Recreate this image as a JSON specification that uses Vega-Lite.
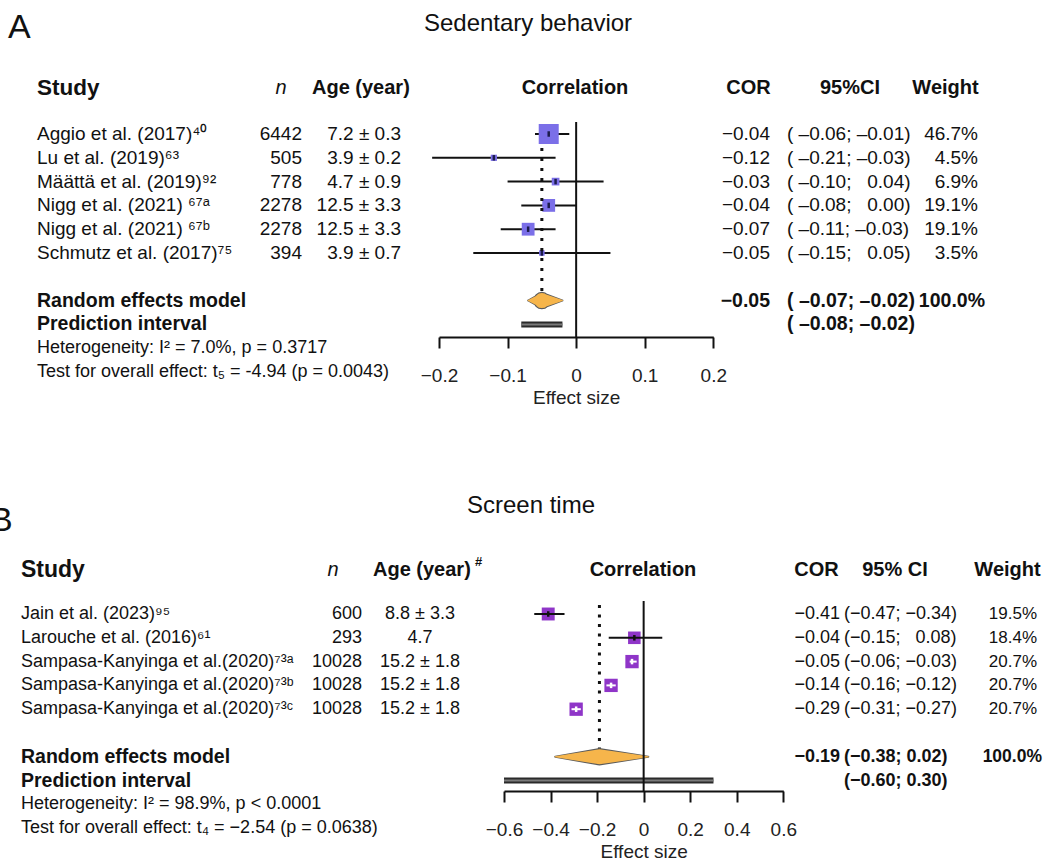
{
"$schema": "https://vega.github.io/schema/vega-lite/v6.json",
"padding": 0,
"spacing": 50,
"config": {
  "font": "Liberation Sans",
  "view": {"stroke": null},
  "text": {"font": "Liberation Sans", "color": "#111", "baseline": "middle"},
  "axis": {"domainColor": "#111", "domainWidth": 2, "tickColor": "#111", "tickWidth": 2, "tickSize": 11, "labelFont": "Liberation Sans", "labelFontSize": 19, "labelColor": "#222", "labelPadding": 18, "labelFlush": false, "labelOverlap": false, "titleFont": "Liberation Sans", "titleFontSize": 19, "titleFontWeight": "normal", "titleColor": "#222", "titlePadding": 3, "grid": false}
},
"datasets": {
  "aStudies": [
    {"row": 1, "study": "Aggio et al. (2017)⁴⁰", "n": 6442, "age": "7.2 ± 0.3", "cor": -0.04, "lo": -0.06, "hi": -0.01, "w": 0.467, "ci": "( –0.06; –0.01)"},
    {"row": 2, "study": "Lu et al. (2019)⁶³", "n": 505, "age": "3.9 ± 0.2", "cor": -0.12, "lo": -0.21, "hi": -0.03, "w": 0.045, "ci": "( –0.21; –0.03)"},
    {"row": 3, "study": "Määttä et al. (2019)⁹²", "n": 778, "age": "4.7 ± 0.9", "cor": -0.03, "lo": -0.10, "hi": 0.04, "w": 0.069, "ci": "( –0.10; \u20070.04)"},
    {"row": 4, "study": "Nigg et al. (2021) ⁶⁷ᵃ", "n": 2278, "age": "12.5 ± 3.3", "cor": -0.04, "lo": -0.08, "hi": 0.00, "w": 0.191, "ci": "( –0.08; \u20070.00)"},
    {"row": 5, "study": "Nigg et al. (2021) ⁶⁷ᵇ", "n": 2278, "age": "12.5 ± 3.3", "cor": -0.07, "lo": -0.11, "hi": -0.03, "w": 0.191, "ci": "( –0.11; –0.03)"},
    {"row": 6, "study": "Schmutz et al. (2017)⁷⁵", "n": 394, "age": "3.9 ± 0.7", "cor": -0.05, "lo": -0.15, "hi": 0.05, "w": 0.035, "ci": "( –0.15; \u20070.05)"}
  ],
  "aSum": [
    {"row": 8, "type": "re", "label": "Random effects model", "cor": -0.05, "lo": -0.07, "hi": -0.02, "w": 1, "ci": "( –0.07; –0.02)"},
    {"row": 9, "type": "pi", "label": "Prediction interval", "lo": -0.08, "hi": -0.02, "ci": "( –0.08; –0.02)"}
  ],
  "aNotes": [
    {"row": 10, "t": "Heterogeneity: I² = 7.0%, p = 0.3717"},
    {"row": 11, "t": "Test for overall effect: t₅ = -4.94 (p = 0.0043)"}
  ],
  "bStudies": [
    {"row": 1, "study": "Jain et al. (2023)⁹⁵", "n": 600, "age": "8.8 ± 3.3", "cor": -0.41, "lo": -0.47, "hi": -0.34, "w": 0.195, "ci": "(−0.47; −0.34)"},
    {"row": 2, "study": "Larouche et al. (2016)⁶¹", "n": 293, "age": "4.7", "cor": -0.04, "lo": -0.15, "hi": 0.08, "w": 0.184, "ci": "(−0.15; \u20070.08)"},
    {"row": 3, "study": "Sampasa-Kanyinga et al.(2020)⁷³ᵃ", "n": 10028, "age": "15.2 ± 1.8", "cor": -0.05, "lo": -0.06, "hi": -0.03, "w": 0.207, "ci": "(−0.06; −0.03)"},
    {"row": 4, "study": "Sampasa-Kanyinga et al.(2020)⁷³ᵇ", "n": 10028, "age": "15.2 ± 1.8", "cor": -0.14, "lo": -0.16, "hi": -0.12, "w": 0.207, "ci": "(−0.16; −0.12)"},
    {"row": 5, "study": "Sampasa-Kanyinga et al.(2020)⁷³ᶜ", "n": 10028, "age": "15.2 ± 1.8", "cor": -0.29, "lo": -0.31, "hi": -0.27, "w": 0.207, "ci": "(−0.31; −0.27)"}
  ],
  "bSum": [
    {"row": 7, "type": "re", "label": "Random effects model", "cor": -0.19, "lo": -0.38, "hi": 0.02, "w": 1, "ci": "(−0.38; 0.02)"},
    {"row": 8, "type": "pi", "label": "Prediction interval", "lo": -0.60, "hi": 0.30, "ci": "(−0.60; 0.30)"}
  ],
  "bNotes": [
    {"row": 9, "t": "Heterogeneity: I² = 98.9%, p < 0.0001"},
    {"row": 10, "t": "Test for overall effect: t₄ = −2.54 (p = 0.0638)"}
  ]
},
"vconcat": [
{
  "width": 1043, "height": 337,
  "resolve": {"scale": {"x": "independent"}, "axis": {"x": "independent"}},
  "layer": [
    {"data": {"values": [{}]}, "mark": {"type": "text", "align": "left", "fontSize": 34},
     "encoding": {"x": {"datum": 8, "type": "quantitative", "scale": {"domain": [0, 1043], "range": [0, 1043], "nice": false, "zero": false}, "axis": null},
                  "y": {"datum": -3.45, "type": "quantitative", "scale": {"domain": [-4.63, 9.529], "reverse": true, "nice": false, "zero": false}, "axis": null},
                  "text": {"value": "A"}}},
    {"data": {"values": [{}]}, "mark": {"type": "text", "align": "center", "fontSize": 24},
     "encoding": {"x": {"datum": 528, "type": "quantitative", "scale": {"domain": [0, 1043], "range": [0, 1043], "nice": false, "zero": false}, "axis": null},
                  "y": {"datum": -3.62, "type": "quantitative", "scale": {"domain": [-4.63, 9.529], "reverse": true, "nice": false, "zero": false}, "axis": null},
                  "text": {"value": "Sedentary behavior"}}},
    {"data": {"values": [{}]}, "mark": {"type": "text", "align": "left", "fontSize": 22.5, "fontWeight": "bold"},
     "encoding": {"x": {"datum": 37, "type": "quantitative", "scale": {"domain": [0, 1043], "range": [0, 1043], "nice": false, "zero": false}, "axis": null},
                  "y": {"datum": -0.933, "type": "quantitative", "scale": {"domain": [-4.63, 9.529], "reverse": true, "nice": false, "zero": false}, "axis": null},
                  "text": {"value": "Study"}}},
    {"data": {"values": [{}]}, "mark": {"type": "text", "align": "center", "fontSize": 20, "fontStyle": "italic"},
     "encoding": {"x": {"datum": 281, "type": "quantitative", "scale": {"domain": [0, 1043], "range": [0, 1043], "nice": false, "zero": false}, "axis": null},
                  "y": {"datum": -0.933, "type": "quantitative", "scale": {"domain": [-4.63, 9.529], "reverse": true, "nice": false, "zero": false}, "axis": null},
                  "text": {"value": "n"}}},
    {"data": {"values": [{}]}, "mark": {"type": "text", "align": "left", "fontSize": 20, "fontWeight": "bold"},
     "encoding": {"x": {"datum": 312, "type": "quantitative", "scale": {"domain": [0, 1043], "range": [0, 1043], "nice": false, "zero": false}, "axis": null},
                  "y": {"datum": -0.933, "type": "quantitative", "scale": {"domain": [-4.63, 9.529], "reverse": true, "nice": false, "zero": false}, "axis": null},
                  "text": {"value": "Age (year)"}}},
    {"data": {"values": [{}]}, "mark": {"type": "text", "align": "center", "fontSize": 20, "fontWeight": "bold"},
     "encoding": {"x": {"datum": 575, "type": "quantitative", "scale": {"domain": [0, 1043], "range": [0, 1043], "nice": false, "zero": false}, "axis": null},
                  "y": {"datum": -0.933, "type": "quantitative", "scale": {"domain": [-4.63, 9.529], "reverse": true, "nice": false, "zero": false}, "axis": null},
                  "text": {"value": "Correlation"}}},
    {"data": {"values": [{}]}, "mark": {"type": "text", "align": "center", "fontSize": 20, "fontWeight": "bold"},
     "encoding": {"x": {"datum": 748.5, "type": "quantitative", "scale": {"domain": [0, 1043], "range": [0, 1043], "nice": false, "zero": false}, "axis": null},
                  "y": {"datum": -0.933, "type": "quantitative", "scale": {"domain": [-4.63, 9.529], "reverse": true, "nice": false, "zero": false}, "axis": null},
                  "text": {"value": "COR"}}},
    {"data": {"values": [{}]}, "mark": {"type": "text", "align": "center", "fontSize": 20, "fontWeight": "bold"},
     "encoding": {"x": {"datum": 850, "type": "quantitative", "scale": {"domain": [0, 1043], "range": [0, 1043], "nice": false, "zero": false}, "axis": null},
                  "y": {"datum": -0.933, "type": "quantitative", "scale": {"domain": [-4.63, 9.529], "reverse": true, "nice": false, "zero": false}, "axis": null},
                  "text": {"value": "95%CI"}}},
    {"data": {"values": [{}]}, "mark": {"type": "text", "align": "center", "fontSize": 20, "fontWeight": "bold"},
     "encoding": {"x": {"datum": 945.5, "type": "quantitative", "scale": {"domain": [0, 1043], "range": [0, 1043], "nice": false, "zero": false}, "axis": null},
                  "y": {"datum": -0.933, "type": "quantitative", "scale": {"domain": [-4.63, 9.529], "reverse": true, "nice": false, "zero": false}, "axis": null},
                  "text": {"value": "Weight"}}},
    {"data": {"name": "aStudies"}, "mark": {"type": "text", "align": "left", "fontSize": 19},
     "encoding": {"x": {"datum": 37, "type": "quantitative", "scale": {"domain": [0, 1043], "range": [0, 1043], "nice": false, "zero": false}, "axis": null},
                  "y": {"field": "row", "type": "quantitative", "scale": {"domain": [-4.63, 9.529], "reverse": true, "nice": false, "zero": false}, "axis": null},
                  "text": {"field": "study"}}},
    {"data": {"name": "aStudies"}, "mark": {"type": "text", "align": "right", "fontSize": 19},
     "encoding": {"x": {"datum": 302, "type": "quantitative", "scale": {"domain": [0, 1043], "range": [0, 1043], "nice": false, "zero": false}, "axis": null},
                  "y": {"field": "row", "type": "quantitative", "scale": {"domain": [-4.63, 9.529], "reverse": true, "nice": false, "zero": false}, "axis": null},
                  "text": {"field": "n", "type": "quantitative", "format": "d"}}},
    {"data": {"name": "aStudies"}, "mark": {"type": "text", "align": "right", "fontSize": 19},
     "encoding": {"x": {"datum": 401, "type": "quantitative", "scale": {"domain": [0, 1043], "range": [0, 1043], "nice": false, "zero": false}, "axis": null},
                  "y": {"field": "row", "type": "quantitative", "scale": {"domain": [-4.63, 9.529], "reverse": true, "nice": false, "zero": false}, "axis": null},
                  "text": {"field": "age"}}},
    {"data": {"name": "aStudies"}, "mark": {"type": "text", "align": "right", "fontSize": 19},
     "encoding": {"x": {"datum": 770, "type": "quantitative", "scale": {"domain": [0, 1043], "range": [0, 1043], "nice": false, "zero": false}, "axis": null},
                  "y": {"field": "row", "type": "quantitative", "scale": {"domain": [-4.63, 9.529], "reverse": true, "nice": false, "zero": false}, "axis": null},
                  "text": {"field": "cor", "type": "quantitative", "format": ".2f"}}},
    {"data": {"name": "aStudies"}, "mark": {"type": "text", "align": "left", "fontSize": 19},
     "encoding": {"x": {"datum": 787, "type": "quantitative", "scale": {"domain": [0, 1043], "range": [0, 1043], "nice": false, "zero": false}, "axis": null},
                  "y": {"field": "row", "type": "quantitative", "scale": {"domain": [-4.63, 9.529], "reverse": true, "nice": false, "zero": false}, "axis": null},
                  "text": {"field": "ci"}}},
    {"data": {"name": "aStudies"}, "mark": {"type": "text", "align": "right", "fontSize": 19},
     "encoding": {"x": {"datum": 978, "type": "quantitative", "scale": {"domain": [0, 1043], "range": [0, 1043], "nice": false, "zero": false}, "axis": null},
                  "y": {"field": "row", "type": "quantitative", "scale": {"domain": [-4.63, 9.529], "reverse": true, "nice": false, "zero": false}, "axis": null},
                  "text": {"field": "w", "type": "quantitative", "format": ".1%"}}},
    {"data": {"name": "aSum"}, "mark": {"type": "text", "align": "left", "fontSize": 19.5, "fontWeight": "bold"},
     "encoding": {"x": {"datum": 37, "type": "quantitative", "scale": {"domain": [0, 1043], "range": [0, 1043], "nice": false, "zero": false}, "axis": null},
                  "y": {"field": "row", "type": "quantitative", "scale": {"domain": [-4.63, 9.529], "reverse": true, "nice": false, "zero": false}, "axis": null},
                  "text": {"field": "label"}}},
    {"data": {"name": "aSum"}, "transform": [{"filter": "datum.type == 're'"}], "mark": {"type": "text", "align": "right", "fontSize": 19.5, "fontWeight": "bold"},
     "encoding": {"x": {"datum": 770, "type": "quantitative", "scale": {"domain": [0, 1043], "range": [0, 1043], "nice": false, "zero": false}, "axis": null},
                  "y": {"field": "row", "type": "quantitative", "scale": {"domain": [-4.63, 9.529], "reverse": true, "nice": false, "zero": false}, "axis": null},
                  "text": {"field": "cor", "type": "quantitative", "format": ".2f"}}},
    {"data": {"name": "aSum"}, "mark": {"type": "text", "align": "left", "fontSize": 19.5, "fontWeight": "bold"},
     "encoding": {"x": {"datum": 787, "type": "quantitative", "scale": {"domain": [0, 1043], "range": [0, 1043], "nice": false, "zero": false}, "axis": null},
                  "y": {"field": "row", "type": "quantitative", "scale": {"domain": [-4.63, 9.529], "reverse": true, "nice": false, "zero": false}, "axis": null},
                  "text": {"field": "ci"}}},
    {"data": {"name": "aSum"}, "transform": [{"filter": "datum.type == 're'"}], "mark": {"type": "text", "align": "right", "fontSize": 19.5, "fontWeight": "bold"},
     "encoding": {"x": {"datum": 985, "type": "quantitative", "scale": {"domain": [0, 1043], "range": [0, 1043], "nice": false, "zero": false}, "axis": null},
                  "y": {"field": "row", "type": "quantitative", "scale": {"domain": [-4.63, 9.529], "reverse": true, "nice": false, "zero": false}, "axis": null},
                  "text": {"field": "w", "type": "quantitative", "format": ".1%"}}},
    {"data": {"name": "aNotes"}, "mark": {"type": "text", "align": "left", "fontSize": 18},
     "encoding": {"x": {"datum": 37, "type": "quantitative", "scale": {"domain": [0, 1043], "range": [0, 1043], "nice": false, "zero": false}, "axis": null},
                  "y": {"field": "row", "type": "quantitative", "scale": {"domain": [-4.63, 9.529], "reverse": true, "nice": false, "zero": false}, "axis": null},
                  "text": {"field": "t"}}},
    {"data": {"name": "aStudies"}, "mark": {"type": "rule", "color": "#111", "strokeWidth": 2},
     "encoding": {"x": {"field": "lo", "type": "quantitative", "scale": {"domain": [-0.2, 0.2], "range": [439, 713.3], "nice": false, "zero": false},
                        "axis": {"orient": "bottom", "values": [-0.2, -0.1, 0, 0.1, 0.2], "format": "~g", "title": "Effect size"}},
                  "x2": {"field": "hi"},
                  "y": {"field": "row", "type": "quantitative", "scale": {"domain": [-4.63, 9.529], "reverse": true, "nice": false, "zero": false}, "axis": null}}},
    {"data": {"name": "aStudies"}, "mark": {"type": "point", "shape": "square", "filled": true, "opacity": 1, "color": "#7b6fe8", "strokeWidth": 0},
     "encoding": {"x": {"field": "cor", "type": "quantitative", "scale": {"domain": [-0.2, 0.2], "range": [439, 713.3], "nice": false, "zero": false}, "axis": null},
                  "y": {"field": "row", "type": "quantitative", "scale": {"domain": [-4.63, 9.529], "reverse": true, "nice": false, "zero": false}, "axis": null},
                  "size": {"field": "w", "type": "quantitative", "scale": {"domain": [0, 1], "range": [0, 857], "zero": true}, "legend": null}}},
    {"data": {"name": "aStudies"}, "mark": {"type": "point", "shape": "M0,-1L0,1", "filled": false, "opacity": 1, "color": "#1c1c4c", "strokeWidth": 2.5, "size": 30},
     "encoding": {"x": {"field": "cor", "type": "quantitative", "scale": {"domain": [-0.2, 0.2], "range": [439, 713.3], "nice": false, "zero": false}, "axis": null},
                  "y": {"field": "row", "type": "quantitative", "scale": {"domain": [-4.63, 9.529], "reverse": true, "nice": false, "zero": false}, "axis": null}}},
    {"data": {"name": "aSum"}, "transform": [{"filter": "datum.type == 're'"}], "mark": {"type": "rule", "color": "#111", "strokeWidth": 3, "strokeDash": [3, 7]},
     "encoding": {"x": {"field": "cor", "type": "quantitative", "scale": {"domain": [-0.2, 0.2], "range": [439, 713.3], "nice": false, "zero": false}, "axis": null},
                  "y": {"datum": 1.59, "type": "quantitative", "scale": {"domain": [-4.63, 9.529], "reverse": true, "nice": false, "zero": false}, "axis": null},
                  "y2": {"datum": 7.72}}},
    {"data": {"name": "aSum"}, "transform": [{"filter": "datum.type == 're'"}, {"fold": ["lo", "cor", "hi"], "as": ["k", "v"]}],
     "mark": {"type": "trail", "color": "#5a5a5a", "opacity": 1},
     "encoding": {"x": {"field": "v", "type": "quantitative", "scale": {"domain": [-0.2, 0.2], "range": [439, 713.3], "nice": false, "zero": false}, "axis": null},
                  "y": {"field": "row", "type": "quantitative", "scale": {"domain": [-4.63, 9.529], "reverse": true, "nice": false, "zero": false}, "axis": null},
                  "size": {"condition": {"test": "datum.k == 'cor'", "value": 17.5}, "value": 2}}},
    {"data": {"name": "aSum"}, "transform": [{"filter": "datum.type == 're'"}, {"fold": ["lo", "cor", "hi"], "as": ["k", "v"]}],
     "mark": {"type": "trail", "color": "#f6b54b", "opacity": 1},
     "encoding": {"x": {"field": "v", "type": "quantitative", "scale": {"domain": [-0.2, 0.2], "range": [439, 713.3], "nice": false, "zero": false}, "axis": null},
                  "y": {"field": "row", "type": "quantitative", "scale": {"domain": [-4.63, 9.529], "reverse": true, "nice": false, "zero": false}, "axis": null},
                  "size": {"condition": {"test": "datum.k == 'cor'", "value": 15}, "value": 0}}},
    {"data": {"name": "aSum"}, "transform": [{"filter": "datum.type == 'pi'"}], "mark": {"type": "rule", "color": "#2a2a2a", "strokeWidth": 6},
     "encoding": {"x": {"field": "lo", "type": "quantitative", "scale": {"domain": [-0.2, 0.2], "range": [439, 713.3], "nice": false, "zero": false}, "axis": null},
                  "x2": {"field": "hi"},
                  "y": {"field": "row", "type": "quantitative", "scale": {"domain": [-4.63, 9.529], "reverse": true, "nice": false, "zero": false}, "axis": null}}},
    {"data": {"name": "aSum"}, "transform": [{"filter": "datum.type == 'pi'"}], "mark": {"type": "rule", "color": "#7a7a7a", "strokeWidth": 2},
     "encoding": {"x": {"field": "lo", "type": "quantitative", "scale": {"domain": [-0.2, 0.2], "range": [439, 713.3], "nice": false, "zero": false}, "axis": null},
                  "x2": {"field": "hi"},
                  "y": {"field": "row", "type": "quantitative", "scale": {"domain": [-4.63, 9.529], "reverse": true, "nice": false, "zero": false}, "axis": null}}},
    {"data": {"values": [{}]}, "mark": {"type": "rule", "color": "#111", "strokeWidth": 2},
     "encoding": {"x": {"datum": 0, "type": "quantitative", "scale": {"domain": [-0.2, 0.2], "range": [439, 713.3], "nice": false, "zero": false}, "axis": null},
                  "y": {"datum": 0.496, "type": "quantitative", "scale": {"domain": [-4.63, 9.529], "reverse": true, "nice": false, "zero": false}, "axis": null},
                  "y2": {"datum": 9.529}}}
  ]
},
{
  "width": 1043, "height": 334,
  "resolve": {"scale": {"x": "independent"}, "axis": {"x": "independent"}},
  "layer": [
    {"data": {"values": [{}]}, "mark": {"type": "text", "align": "left", "fontSize": 34, "clip": true},
     "encoding": {"x": {"datum": -10, "type": "quantitative", "scale": {"domain": [0, 1043], "range": [0, 1043], "nice": false, "zero": false}, "axis": null},
                  "y": {"datum": -2.887, "type": "quantitative", "scale": {"domain": [-5.5966, 8.437], "reverse": true, "nice": false, "zero": false}, "axis": null},
                  "text": {"value": "B"}}},
    {"data": {"values": [{}]}, "mark": {"type": "text", "align": "center", "fontSize": 24},
     "encoding": {"x": {"datum": 531, "type": "quantitative", "scale": {"domain": [0, 1043], "range": [0, 1043], "nice": false, "zero": false}, "axis": null},
                  "y": {"datum": -3.538, "type": "quantitative", "scale": {"domain": [-5.5966, 8.437], "reverse": true, "nice": false, "zero": false}, "axis": null},
                  "text": {"value": "Screen time"}}},
    {"data": {"values": [{}]}, "mark": {"type": "text", "align": "left", "fontSize": 23, "fontWeight": "bold"},
     "encoding": {"x": {"datum": 21, "type": "quantitative", "scale": {"domain": [0, 1043], "range": [0, 1043], "nice": false, "zero": false}, "axis": null},
                  "y": {"datum": -0.849, "type": "quantitative", "scale": {"domain": [-5.5966, 8.437], "reverse": true, "nice": false, "zero": false}, "axis": null},
                  "text": {"value": "Study"}}},
    {"data": {"values": [{}]}, "mark": {"type": "text", "align": "center", "fontSize": 20, "fontStyle": "italic"},
     "encoding": {"x": {"datum": 333, "type": "quantitative", "scale": {"domain": [0, 1043], "range": [0, 1043], "nice": false, "zero": false}, "axis": null},
                  "y": {"datum": -0.849, "type": "quantitative", "scale": {"domain": [-5.5966, 8.437], "reverse": true, "nice": false, "zero": false}, "axis": null},
                  "text": {"value": "n"}}},
    {"data": {"values": [{}]}, "mark": {"type": "text", "align": "left", "fontSize": 20, "fontWeight": "bold"},
     "encoding": {"x": {"datum": 373, "type": "quantitative", "scale": {"domain": [0, 1043], "range": [0, 1043], "nice": false, "zero": false}, "axis": null},
                  "y": {"datum": -0.849, "type": "quantitative", "scale": {"domain": [-5.5966, 8.437], "reverse": true, "nice": false, "zero": false}, "axis": null},
                  "text": {"value": "Age (year)"}}},
    {"data": {"values": [{}]}, "mark": {"type": "text", "align": "left", "fontSize": 13, "fontWeight": "bold"},
     "encoding": {"x": {"datum": 475, "type": "quantitative", "scale": {"domain": [0, 1043], "range": [0, 1043], "nice": false, "zero": false}, "axis": null},
                  "y": {"datum": -1.18, "type": "quantitative", "scale": {"domain": [-5.5966, 8.437], "reverse": true, "nice": false, "zero": false}, "axis": null},
                  "text": {"value": "#"}}},
    {"data": {"values": [{}]}, "mark": {"type": "text", "align": "center", "fontSize": 20, "fontWeight": "bold"},
     "encoding": {"x": {"datum": 643, "type": "quantitative", "scale": {"domain": [0, 1043], "range": [0, 1043], "nice": false, "zero": false}, "axis": null},
                  "y": {"datum": -0.849, "type": "quantitative", "scale": {"domain": [-5.5966, 8.437], "reverse": true, "nice": false, "zero": false}, "axis": null},
                  "text": {"value": "Correlation"}}},
    {"data": {"values": [{}]}, "mark": {"type": "text", "align": "center", "fontSize": 20, "fontWeight": "bold"},
     "encoding": {"x": {"datum": 816.5, "type": "quantitative", "scale": {"domain": [0, 1043], "range": [0, 1043], "nice": false, "zero": false}, "axis": null},
                  "y": {"datum": -0.849, "type": "quantitative", "scale": {"domain": [-5.5966, 8.437], "reverse": true, "nice": false, "zero": false}, "axis": null},
                  "text": {"value": "COR"}}},
    {"data": {"values": [{}]}, "mark": {"type": "text", "align": "center", "fontSize": 20, "fontWeight": "bold"},
     "encoding": {"x": {"datum": 895, "type": "quantitative", "scale": {"domain": [0, 1043], "range": [0, 1043], "nice": false, "zero": false}, "axis": null},
                  "y": {"datum": -0.849, "type": "quantitative", "scale": {"domain": [-5.5966, 8.437], "reverse": true, "nice": false, "zero": false}, "axis": null},
                  "text": {"value": "95% CI"}}},
    {"data": {"values": [{}]}, "mark": {"type": "text", "align": "center", "fontSize": 20, "fontWeight": "bold"},
     "encoding": {"x": {"datum": 1007.5, "type": "quantitative", "scale": {"domain": [0, 1043], "range": [0, 1043], "nice": false, "zero": false}, "axis": null},
                  "y": {"datum": -0.849, "type": "quantitative", "scale": {"domain": [-5.5966, 8.437], "reverse": true, "nice": false, "zero": false}, "axis": null},
                  "text": {"value": "Weight"}}},
    {"data": {"name": "bStudies"}, "mark": {"type": "text", "align": "left", "fontSize": 18},
     "encoding": {"x": {"datum": 21, "type": "quantitative", "scale": {"domain": [0, 1043], "range": [0, 1043], "nice": false, "zero": false}, "axis": null},
                  "y": {"field": "row", "type": "quantitative", "scale": {"domain": [-5.5966, 8.437], "reverse": true, "nice": false, "zero": false}, "axis": null},
                  "text": {"field": "study"}}},
    {"data": {"name": "bStudies"}, "mark": {"type": "text", "align": "right", "fontSize": 18},
     "encoding": {"x": {"datum": 362, "type": "quantitative", "scale": {"domain": [0, 1043], "range": [0, 1043], "nice": false, "zero": false}, "axis": null},
                  "y": {"field": "row", "type": "quantitative", "scale": {"domain": [-5.5966, 8.437], "reverse": true, "nice": false, "zero": false}, "axis": null},
                  "text": {"field": "n", "type": "quantitative", "format": "d"}}},
    {"data": {"name": "bStudies"}, "mark": {"type": "text", "align": "center", "fontSize": 18},
     "encoding": {"x": {"datum": 420, "type": "quantitative", "scale": {"domain": [0, 1043], "range": [0, 1043], "nice": false, "zero": false}, "axis": null},
                  "y": {"field": "row", "type": "quantitative", "scale": {"domain": [-5.5966, 8.437], "reverse": true, "nice": false, "zero": false}, "axis": null},
                  "text": {"field": "age"}}},
    {"data": {"name": "bStudies"}, "mark": {"type": "text", "align": "right", "fontSize": 18},
     "encoding": {"x": {"datum": 840, "type": "quantitative", "scale": {"domain": [0, 1043], "range": [0, 1043], "nice": false, "zero": false}, "axis": null},
                  "y": {"field": "row", "type": "quantitative", "scale": {"domain": [-5.5966, 8.437], "reverse": true, "nice": false, "zero": false}, "axis": null},
                  "text": {"field": "cor", "type": "quantitative", "format": ".2f"}}},
    {"data": {"name": "bStudies"}, "mark": {"type": "text", "align": "left", "fontSize": 18},
     "encoding": {"x": {"datum": 844, "type": "quantitative", "scale": {"domain": [0, 1043], "range": [0, 1043], "nice": false, "zero": false}, "axis": null},
                  "y": {"field": "row", "type": "quantitative", "scale": {"domain": [-5.5966, 8.437], "reverse": true, "nice": false, "zero": false}, "axis": null},
                  "text": {"field": "ci"}}},
    {"data": {"name": "bStudies"}, "mark": {"type": "text", "align": "right", "fontSize": 17},
     "encoding": {"x": {"datum": 1037, "type": "quantitative", "scale": {"domain": [0, 1043], "range": [0, 1043], "nice": false, "zero": false}, "axis": null},
                  "y": {"field": "row", "type": "quantitative", "scale": {"domain": [-5.5966, 8.437], "reverse": true, "nice": false, "zero": false}, "axis": null},
                  "text": {"field": "w", "type": "quantitative", "format": ".1%"}}},
    {"data": {"name": "bSum"}, "mark": {"type": "text", "align": "left", "fontSize": 19.5, "fontWeight": "bold"},
     "encoding": {"x": {"datum": 21, "type": "quantitative", "scale": {"domain": [0, 1043], "range": [0, 1043], "nice": false, "zero": false}, "axis": null},
                  "y": {"field": "row", "type": "quantitative", "scale": {"domain": [-5.5966, 8.437], "reverse": true, "nice": false, "zero": false}, "axis": null},
                  "text": {"field": "label"}}},
    {"data": {"name": "bSum"}, "transform": [{"filter": "datum.type == 're'"}], "mark": {"type": "text", "align": "right", "fontSize": 18, "fontWeight": "bold"},
     "encoding": {"x": {"datum": 840, "type": "quantitative", "scale": {"domain": [0, 1043], "range": [0, 1043], "nice": false, "zero": false}, "axis": null},
                  "y": {"field": "row", "type": "quantitative", "scale": {"domain": [-5.5966, 8.437], "reverse": true, "nice": false, "zero": false}, "axis": null},
                  "text": {"field": "cor", "type": "quantitative", "format": ".2f"}}},
    {"data": {"name": "bSum"}, "mark": {"type": "text", "align": "left", "fontSize": 18, "fontWeight": "bold"},
     "encoding": {"x": {"datum": 844, "type": "quantitative", "scale": {"domain": [0, 1043], "range": [0, 1043], "nice": false, "zero": false}, "axis": null},
                  "y": {"field": "row", "type": "quantitative", "scale": {"domain": [-5.5966, 8.437], "reverse": true, "nice": false, "zero": false}, "axis": null},
                  "text": {"field": "ci"}}},
    {"data": {"name": "bSum"}, "transform": [{"filter": "datum.type == 're'"}], "mark": {"type": "text", "align": "right", "fontSize": 17.5, "fontWeight": "bold"},
     "encoding": {"x": {"datum": 1042, "type": "quantitative", "scale": {"domain": [0, 1043], "range": [0, 1043], "nice": false, "zero": false}, "axis": null},
                  "y": {"field": "row", "type": "quantitative", "scale": {"domain": [-5.5966, 8.437], "reverse": true, "nice": false, "zero": false}, "axis": null},
                  "text": {"field": "w", "type": "quantitative", "format": ".1%"}}},
    {"data": {"name": "bNotes"}, "mark": {"type": "text", "align": "left", "fontSize": 18},
     "encoding": {"x": {"datum": 21, "type": "quantitative", "scale": {"domain": [0, 1043], "range": [0, 1043], "nice": false, "zero": false}, "axis": null},
                  "y": {"field": "row", "type": "quantitative", "scale": {"domain": [-5.5966, 8.437], "reverse": true, "nice": false, "zero": false}, "axis": null},
                  "text": {"field": "t"}}},
    {"data": {"name": "bStudies"}, "mark": {"type": "point", "shape": "square", "filled": true, "opacity": 1, "color": "#8f35c8", "strokeWidth": 0},
     "encoding": {"x": {"field": "cor", "type": "quantitative", "scale": {"domain": [-0.6, 0.6], "range": [504, 783.3], "nice": false, "zero": false}, "axis": null},
                  "y": {"field": "row", "type": "quantitative", "scale": {"domain": [-5.5966, 8.437], "reverse": true, "nice": false, "zero": false}, "axis": null},
                  "size": {"field": "w", "type": "quantitative", "scale": {"domain": [0, 1], "range": [0, 1910], "zero": true}, "legend": null}}},
    {"data": {"name": "bStudies"}, "mark": {"type": "rule", "strokeWidth": 2},
     "encoding": {"x": {"field": "lo", "type": "quantitative", "scale": {"domain": [-0.6, 0.6], "range": [504, 783.3], "nice": false, "zero": false},
                        "axis": {"orient": "bottom", "values": [-0.6, -0.4, -0.2, 0, 0.2, 0.4, 0.6], "format": "~g", "title": "Effect size"}},
                  "x2": {"field": "hi"},
                  "y": {"field": "row", "type": "quantitative", "scale": {"domain": [-5.5966, 8.437], "reverse": true, "nice": false, "zero": false}, "axis": null},
                  "color": {"condition": {"test": "datum.hi - datum.lo < 0.08", "value": "#ffffff"}, "value": "#111111"}}},
    {"data": {"name": "bStudies"}, "mark": {"type": "point", "shape": "M0,-1L0,1", "filled": false, "opacity": 1, "strokeWidth": 2.5, "size": 30},
     "encoding": {"x": {"field": "cor", "type": "quantitative", "scale": {"domain": [-0.6, 0.6], "range": [504, 783.3], "nice": false, "zero": false}, "axis": null},
                  "y": {"field": "row", "type": "quantitative", "scale": {"domain": [-5.5966, 8.437], "reverse": true, "nice": false, "zero": false}, "axis": null},
                  "color": {"condition": {"test": "datum.hi - datum.lo < 0.08", "value": "#ffffff"}, "value": "#111111"}}},
    {"data": {"name": "bSum"}, "transform": [{"filter": "datum.type == 're'"}], "mark": {"type": "rule", "color": "#111", "strokeWidth": 3, "strokeDash": [3, 6.5]},
     "encoding": {"x": {"field": "cor", "type": "quantitative", "scale": {"domain": [-0.6, 0.6], "range": [504, 783.3], "nice": false, "zero": false}, "axis": null},
                  "y": {"datum": 0.62, "type": "quantitative", "scale": {"domain": [-5.5966, 8.437], "reverse": true, "nice": false, "zero": false}, "axis": null},
                  "y2": {"datum": 6.69}}},
    {"data": {"name": "bSum"}, "transform": [{"filter": "datum.type == 're'"}, {"fold": ["lo", "cor", "hi"], "as": ["k", "v"]}],
     "mark": {"type": "trail", "color": "#5a5a5a", "opacity": 1},
     "encoding": {"x": {"field": "v", "type": "quantitative", "scale": {"domain": [-0.6, 0.6], "range": [504, 783.3], "nice": false, "zero": false}, "axis": null},
                  "y": {"field": "row", "type": "quantitative", "scale": {"domain": [-5.5966, 8.437], "reverse": true, "nice": false, "zero": false}, "axis": null},
                  "size": {"condition": {"test": "datum.k == 'cor'", "value": 17.5}, "value": 2}}},
    {"data": {"name": "bSum"}, "transform": [{"filter": "datum.type == 're'"}, {"fold": ["lo", "cor", "hi"], "as": ["k", "v"]}],
     "mark": {"type": "trail", "color": "#f6b54b", "opacity": 1},
     "encoding": {"x": {"field": "v", "type": "quantitative", "scale": {"domain": [-0.6, 0.6], "range": [504, 783.3], "nice": false, "zero": false}, "axis": null},
                  "y": {"field": "row", "type": "quantitative", "scale": {"domain": [-5.5966, 8.437], "reverse": true, "nice": false, "zero": false}, "axis": null},
                  "size": {"condition": {"test": "datum.k == 'cor'", "value": 15}, "value": 0}}},
    {"data": {"name": "bSum"}, "transform": [{"filter": "datum.type == 'pi'"}], "mark": {"type": "rule", "color": "#2a2a2a", "strokeWidth": 6},
     "encoding": {"x": {"field": "lo", "type": "quantitative", "scale": {"domain": [-0.6, 0.6], "range": [504, 783.3], "nice": false, "zero": false}, "axis": null},
                  "x2": {"field": "hi"},
                  "y": {"field": "row", "type": "quantitative", "scale": {"domain": [-5.5966, 8.437], "reverse": true, "nice": false, "zero": false}, "axis": null}}},
    {"data": {"name": "bSum"}, "transform": [{"filter": "datum.type == 'pi'"}], "mark": {"type": "rule", "color": "#7a7a7a", "strokeWidth": 2},
     "encoding": {"x": {"field": "lo", "type": "quantitative", "scale": {"domain": [-0.6, 0.6], "range": [504, 783.3], "nice": false, "zero": false}, "axis": null},
                  "x2": {"field": "hi"},
                  "y": {"field": "row", "type": "quantitative", "scale": {"domain": [-5.5966, 8.437], "reverse": true, "nice": false, "zero": false}, "axis": null}}},
    {"data": {"values": [{}]}, "mark": {"type": "rule", "color": "#111", "strokeWidth": 2},
     "encoding": {"x": {"datum": 0, "type": "quantitative", "scale": {"domain": [-0.6, 0.6], "range": [504, 783.3], "nice": false, "zero": false}, "axis": null},
                  "y": {"datum": 0.454, "type": "quantitative", "scale": {"domain": [-5.5966, 8.437], "reverse": true, "nice": false, "zero": false}, "axis": null},
                  "y2": {"datum": 8.437}}}
  ]
}
]
}
